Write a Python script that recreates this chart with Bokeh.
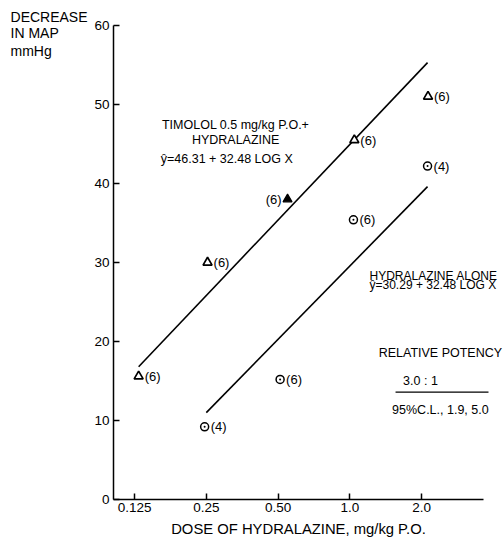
from bokeh.plotting import figure
from bokeh.models import FixedTicker, Label, ColumnDataSource, LinearAxis, LogAxis
from bokeh.core.properties import value
from bokeh.embed import file_html
from bokeh.resources import INLINE

FONT = "Liberation Sans"

# Data
tim_dose = [0.13, 0.253, 1.045, 2.13]
tim_map = [15.6, 30.0, 45.5, 51.0]
tim_n = ["(6)", "(6)", "(6)", "(6)"]
tim_filled_dose = [0.548]
tim_filled_map = [38.0]
tim_filled_n = ["(6)"]

hyd_dose = [0.246, 0.51, 1.036, 2.12]
hyd_map = [9.2, 15.2, 35.4, 42.2]
hyd_n = ["(4)", "(6)", "(6)", "(4)"]

# regression line endpoints (as drawn)
tim_fit_dose = [0.13, 2.12]
tim_fit_map = [16.8, 55.3]
hyd_fit_dose = [0.25, 2.12]
hyd_fit_map = [11.0, 39.6]

x_ticks = [0.125, 0.25, 0.5, 1.0, 2.0]
x_tick_labels = ["0.125", "0.25", "0.50", "1.0", "2.0"]
y_ticks = [0, 10, 20, 30, 40, 50, 60]

X_AXIS_START = 0.102
X_AXIS_END = 3.64

p = figure(width=504, height=540, x_axis_type="log",
           x_axis_location=None, y_axis_location=None,
           x_range=(0.03422, 4.459), y_range=(-5.19, 63.16),
           output_backend="svg", toolbar_location=None,
           min_border_left=0, min_border_right=0, min_border_top=0,
           min_border_bottom=0)
p.outline_line_color = None
p.xgrid.visible = False
p.ygrid.visible = False

yax = LinearAxis(fixed_location=X_AXIS_START, bounds=(0, 60))
p.add_layout(yax, "left")
xax = LogAxis(fixed_location=0, bounds=(X_AXIS_START, X_AXIS_END))
p.add_layout(xax, "below")

xax.ticker = FixedTicker(ticks=x_ticks)
xax.major_label_overrides = {t: l for t, l in zip(x_ticks, x_tick_labels)}
yax.ticker = FixedTicker(ticks=y_ticks)
for ax in (xax, yax):
    ax.minor_tick_line_color = None
    ax.major_tick_in = 6
    ax.major_tick_out = 0
    ax.axis_line_width = 1.5
    ax.major_tick_line_width = 1.5
    ax.axis_line_color = "black"
    ax.major_tick_line_color = "black"
    ax.major_label_text_font = FONT
    ax.major_label_text_font_size = "13.5px"
    ax.major_label_text_color = "black"
yax.major_label_standoff = 4
xax.major_label_standoff = 4
xax.axis_label = "DOSE OF HYDRALAZINE, mg/kg P.O."
xax.axis_label_text_font = FONT
xax.axis_label_text_font_style = "normal"
xax.axis_label_text_font_size = "14.8px"
xax.axis_label_text_color = "black"
xax.axis_label_standoff = 5

# regression lines
p.line(tim_fit_dose, tim_fit_map, line_color="black", line_width=1.6)
p.line(hyd_fit_dose, hyd_fit_map, line_color="black", line_width=1.6)

# points
src_t = ColumnDataSource(dict(x=tim_dose, y=tim_map, n=tim_n))
src_tf = ColumnDataSource(dict(x=tim_filled_dose, y=tim_filled_map, n=tim_filled_n))
src_h = ColumnDataSource(dict(x=hyd_dose, y=hyd_map, n=hyd_n))

p.scatter("x", "y", source=src_t, marker="triangle", size=9,
          fill_color="white", line_color="black", line_width=1.7)
p.scatter("x", "y", source=src_tf, marker="triangle", size=9,
          fill_color="black", line_color="black", line_width=1.2)
p.scatter("x", "y", source=src_h, marker="circle_dot", size=8,
          fill_color="white", line_color="black", line_width=1.5)

TXT = dict(text_font=value(FONT), text_font_size="13px", text_color="black",
           text_baseline="middle")
p.text("x", "y", text="n", source=src_t, x_offset=6, **TXT)
p.text("x", "y", text="n", source=src_h, x_offset=6, **TXT)
p.text("x", "y", text="n", source=src_tf, x_offset=-6, text_align="right", **TXT)


def lab(x, y, t, size="12.5px", align="left"):
    p.add_layout(Label(x=x, y=y, text=t, text_font=FONT, text_font_size=size,
                       text_align=align, text_baseline="middle", text_color="black"))


# y axis title (upper left)
lab(0.0377, 61.1, "DECREASE", "14px")
lab(0.0377, 59.05, "IN MAP", "14px")
lab(0.0377, 56.8, "mmHg", "14px")

lab(0.332, 47.34, "TIMOLOL 0.5 mg/kg P.O.+", align="center")
lab(0.332, 45.44, "HYDRALAZINE", align="center")
lab(0.161, 43.04, "ŷ=46.31 + 32.48 LOG X")

lab(1.21, 28.29, "HYDRALAZINE ALONE", "12px")
lab(1.21, 27.09, "ŷ=30.29 + 32.48 LOG X", "12px")

lab(2.40, 18.52, "RELATIVE POTENCY", align="center")
lab(1.98, 15.06, "3.0 : 1", align="center")
p.line([1.556, 3.82], [13.58, 13.58], line_color="black", line_width=1.2)
lab(2.40, 11.39, "95%C.L., 1.9, 5.0", align="center")

open("out.html", "w").write(file_html(p, INLINE))
